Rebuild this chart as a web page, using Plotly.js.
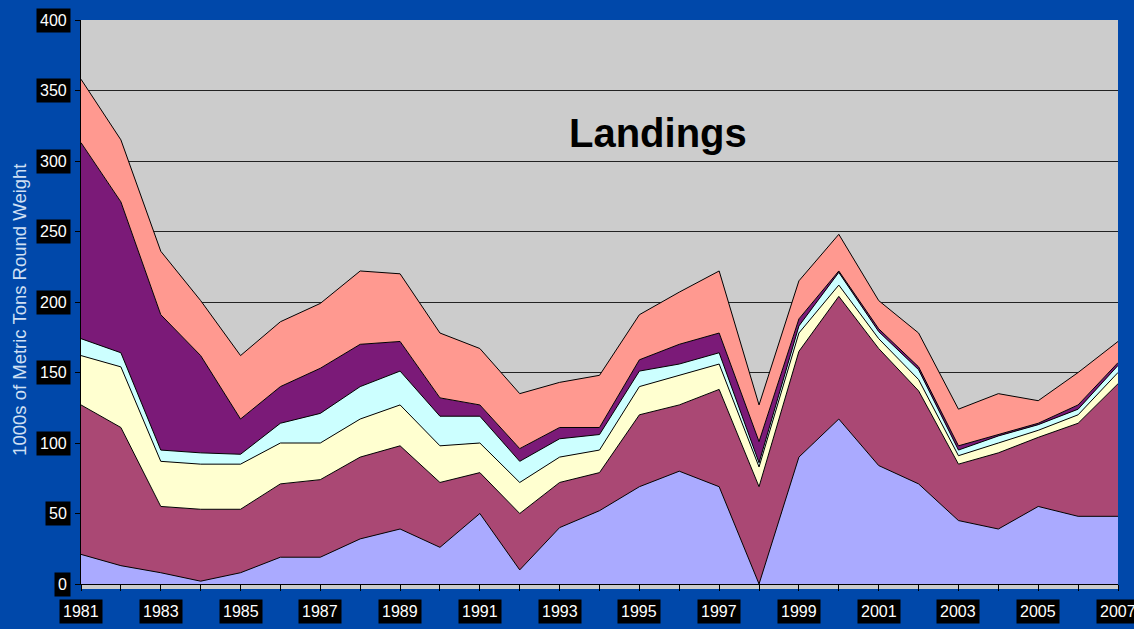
<!DOCTYPE html>
<html>
<head>
<meta charset="utf-8">
<script src="https://cdn.plot.ly/plotly-3.0.1.min.js"></script>
<style>
  html, body { margin: 0; padding: 0; background: #0048AA; }
  #chart { width: 1134px; height: 629px; }
</style>
</head>
<body>
<div id="chart"></div>
<script>
// Years
const years = [1981,1982,1983,1984,1985,1986,1987,1988,1989,1990,1991,1992,1993,1994,1995,1996,1997,1998,1999,2000,2001,2002,2003,2004,2005,2006,2007];

// Stacked series (bottom to top), 1000s of metric tons
const series1 = [21,13,8,2,8,19,19,32,39,26,50,10,40,52,69,80,69,0,90,117,84,71,45,39,55,48,48];
const series2 = [106,98,47,51,45,52,55,58,59,46,29,40,32,27,51,47,69,69,75,87,83,66,40,54,49,66,94];
const series3 = [35,43,32,32,32,29,26,27,29,26,21,22,18,16,20,21,18,14,13,8,7,8,6,7,5,6,8];
const series4 = [12,10,8,8,7,14,21,23,24,21,19,15,13,11,11,8,8,3,5,9,5,7,4,5,4,4,5];
const series5 = [139,107,96,69,25,26,32,30,21,13,8,9,8,5,8,14,14,15,5,1,2,2,3,1,1,3,2];
const series6 = [45,44,45,39,45,46,46,52,48,46,40,39,32,37,32,37,44,26,27,26,20,24,26,29,16,23,15];

const seriesList = [series1, series2, series3, series4, series5, series6];
const seriesNames = ["Series 1","Series 2","Series 3","Series 4","Series 5","Series 6"];
const seriesColors = ["#AAAAFF","#AA4874","#FFFFD0","#CCFFFF","#7B1A78","#FF9990"];

// Tick labels
const yTicks = [0,50,100,150,200,250,300,350,400];
const xTickYears = [1981,1983,1985,1987,1989,1991,1993,1995,1997,1999,2001,2003,2005,2007];
const chartTitle = 'Landings';
const yTitle = '1000s of Metric Tons Round Weight';

const traces = seriesList.map((vals, i) => ({
  x: years,
  y: vals,
  name: seriesNames[i],
  type: 'scatter',
  mode: 'lines',
  stackgroup: 'one',
  fillcolor: seriesColors[i],
  line: { color: '#000000', width: 1 },
  hoverinfo: 'x+y+name'
}));

const tickFont = { family: 'Liberation Sans, Arial, sans-serif', size: 16, color: '#FFFFFF' };
const annotations = [];
yTicks.forEach(v => annotations.push({
  xref: 'paper', yref: 'y', x: 0, y: v,
  xanchor: 'right', yanchor: 'middle', xshift: -10,
  text: String(v), showarrow: false,
  bgcolor: '#000000', borderpad: 3, font: tickFont
}));
xTickYears.forEach(v => annotations.push({
  xref: 'x', yref: 'paper', x: v, y: 0,
  xanchor: 'center', yanchor: 'top', yshift: -15,
  text: String(v), showarrow: false,
  bgcolor: '#000000', borderpad: 3, font: tickFont
}));
annotations.push({
  xref: 'paper', yref: 'paper', x: 0.556, y: 0.80,
  xanchor: 'center', yanchor: 'middle',
  text: '<b>' + chartTitle + '</b>', showarrow: false,
  font: { family: 'Liberation Sans, Arial, sans-serif', size: 40, color: '#000000' }
});
annotations.push({
  xref: 'paper', yref: 'paper', x: 0, y: 0.486,
  xanchor: 'center', yanchor: 'middle', xshift: -61,
  textangle: -90,
  text: yTitle, showarrow: false,
  font: { family: 'Liberation Sans, Arial, sans-serif', size: 18.5, color: '#D0E0F4' }
});

const layout = {
  width: 1134, height: 629,
  paper_bgcolor: '#0048AA',
  plot_bgcolor: '#CCCCCC',
  margin: { l: 81, r: 16, t: 20, b: 45 },
  showlegend: false,
  xaxis: {
    range: [1981, 2007],
    showgrid: false, zeroline: false,
    showticklabels: false,
    tickmode: 'array', tickvals: years,
    ticks: 'outside', ticklen: 6, tickcolor: '#000000',
    showline: true, linecolor: '#000000', linewidth: 1
  },
  yaxis: {
    range: [0, 400],
    tickmode: 'array', tickvals: yTicks,
    showticklabels: false,
    showgrid: true, gridcolor: '#222222', gridwidth: 1,
    zeroline: false,
    ticks: 'outside', ticklen: 5, tickcolor: '#000000',
    showline: true, linecolor: '#000000', linewidth: 1
  },
  annotations: annotations,
  shapes: [{
    type: 'rect', xref: 'paper', yref: 'paper',
    x0: 0, x1: 1, y0: 0, y1: -0.009,
    fillcolor: '#CCCCCC', line: { width: 0 }, layer: 'below'
  }]
};

Plotly.newPlot('chart', traces, layout, { displayModeBar: false, staticPlot: true });
</script>
</body>
</html>
